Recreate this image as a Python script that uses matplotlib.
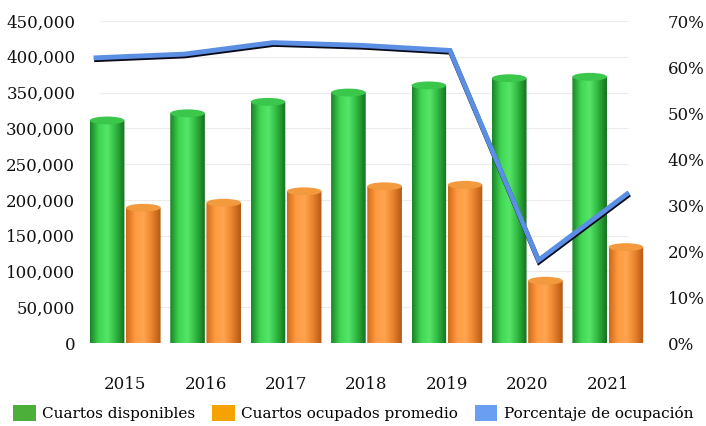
import numpy as np
import matplotlib
matplotlib.use("Agg")
from matplotlib import pyplot as plt
from matplotlib.patches import Ellipse, PathPatch, Patch
from matplotlib.path import Path
from matplotlib.colors import LinearSegmentedColormap
import matplotlib.patheffects as pe
from matplotlib.ticker import FuncFormatter

# data
years = ['2015', '2016', '2017', '2018', '2019', '2020', '2021']
disponibles = [311000, 321000, 337000, 350000, 360000, 370000, 372000]
ocupados = [189000, 196000, 212000, 219000, 221000, 87000, 134000]
ocupacion = [62.0, 62.8, 65.3, 64.7, 63.6, 18.0, 32.4]

plt.rcParams['font.family'] = ['DejaVu Serif']

fig = plt.figure(figsize=(7.06, 4.26), dpi=100)
ax = fig.add_axes([85 / 706, 1 - 343 / 426, 563 / 706, 322 / 426])

ymax = 450000

green = LinearSegmentedColormap.from_list('g', ['#1c8229', '#3fd552', '#56e66a', '#2fb540', '#17701f'])
orange = LinearSegmentedColormap.from_list('o', ['#d06a18', '#ff9a42', '#ffa650', '#e9822c', '#b25a14'])
grad = np.linspace(0, 1, 64).reshape(1, -1)

bw = 0.43
cap = 11000  # ellipse height in data units


def cylinder(xc, v, cmap, top_col):
    x0, x1 = xc - bw / 2, xc + bw / 2
    t = np.linspace(np.pi, 2 * np.pi, 40)
    bx = xc + bw / 2 * np.cos(t)
    by = cap / 2 * np.sin(t)
    verts = [(x0, v)] + list(zip(bx, by)) + [(x1, v), (x0, v)]
    clip = PathPatch(Path(verts, closed=True), transform=ax.transData,
                     facecolor='none', edgecolor='none')
    ax.add_patch(clip)
    im = ax.imshow(grad, cmap=cmap, extent=(x0, x1, -cap, v), aspect='auto',
                   zorder=2, interpolation='bicubic')
    im.set_clip_path(clip)
    ax.add_patch(Ellipse((xc, v), bw, cap, facecolor=top_col, edgecolor='none', zorder=3))


for i in range(len(years)):
    cylinder(i - 0.225, disponibles[i], green, '#3bc64c')
    cylinder(i + 0.225, ocupados[i], orange, '#f39a3e')

ax.set_xlim(-0.5, 6.5)
ax.set_ylim(0, ymax)

ticks = np.arange(0, ymax + 1, 50000)
ax.set_yticks(ticks)
ax.yaxis.set_major_formatter(FuncFormatter(lambda v, p: f'{int(v):,}'))
ax.set_xticks(range(len(years)))
ax.set_xticklabels(years)
ax.tick_params(axis='both', length=0, labelsize=12, colors='#111111')
ax.tick_params(axis='y', pad=7)
ax.tick_params(axis='x', pad=24)
ax.hlines(ticks, 15 / 563, 543 / 563, transform=ax.get_yaxis_transform(),
          color='#ececec', lw=0.8, zorder=0)
for s in ax.spines.values():
    s.set_visible(False)

# line axis (3d line sits at the back, wider spacing)
ax2 = fig.add_axes(ax.get_position(), frameon=False)
ax2.set_xlim(-11 / 88.5, 552 / 88.5)
ax2.set_ylim(0, 70)
ax2.plot(range(len(years)), ocupacion, color='#5b8fe3', lw=3.5, solid_joinstyle='miter',
         path_effects=[pe.SimpleLineShadow(offset=(0.4, -1.3), shadow_color='#0a0a1a', alpha=1.0),
                       pe.Normal()], zorder=5)
ax2.set_xticks([])
ax2.yaxis.tick_right()
ax2.set_yticks(np.arange(0, 71, 10))
ax2.yaxis.set_major_formatter(FuncFormatter(lambda v, p: f'{int(v)}%'))
ax2.tick_params(axis='y', length=0, labelsize=12, pad=14, colors='#111111')

handles = [Patch(facecolor='#4caf3a'), Patch(facecolor='#f5a300'), Patch(facecolor='#6a9ef2')]
labels = ['Cuartos disponibles', 'Cuartos ocupados promedio', 'Porcentaje de ocupación']
fig.legend(handles, labels, loc='center', bbox_to_anchor=(0.5, 1 - 413 / 426), ncol=3,
           frameon=False, fontsize=11, handlelength=1.5, handleheight=1.2,
           handletextpad=0.4, columnspacing=1.1)

fig.savefig('out.png', dpi=100)
